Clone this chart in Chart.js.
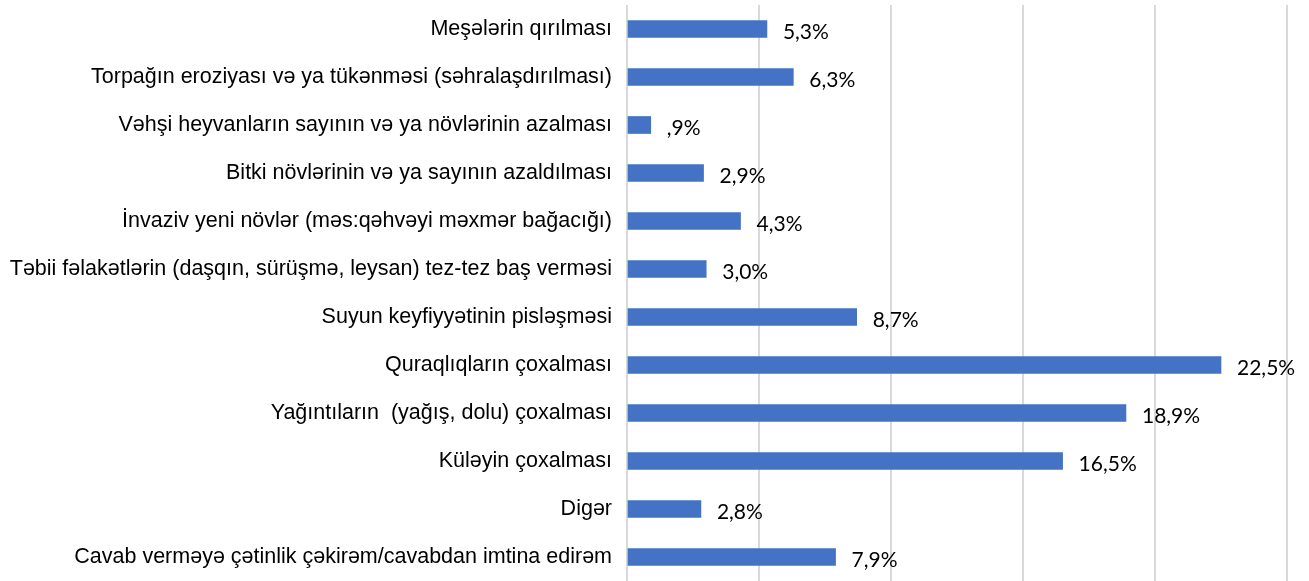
<!DOCTYPE html>
<html>
<head>
<meta charset="utf-8">
<script src="https://cdn.jsdelivr.net/npm/chart.js@4"></script>
<style>
  html, body { margin: 0; padding: 0; background: #fff; }
  #wrap { width: 1309px; height: 581px; }
</style>
</head>
<body>
<div id="wrap"><canvas id="chart"></canvas></div>
<script>
// categories, top to bottom
var categories = [
  "Meşələrin qırılması",
  "Torpağın eroziyası və ya tükənməsi (səhralaşdırılması)",
  "Vəhşi heyvanların sayının və ya növlərinin azalması",
  "Bitki növlərinin və ya sayının azaldılması",
  "İnvaziv yeni növlər (məs:qəhvəyi məxmər bağacığı)",
  "Təbii fəlakətlərin (daşqın, sürüşmə, leysan) tez-tez baş verməsi",
  "Suyun keyfiyyətinin pisləşməsi",
  "Quraqlıqların çoxalması",
  "Yağıntıların  (yağış, dolu) çoxalması",
  "Küləyin çoxalması",
  "Digər",
  "Cavab verməyə çətinlik çəkirəm/cavabdan imtina edirəm"
];
var values = [5.3, 6.3, 0.9, 2.9, 4.3, 3.0, 8.7, 22.5, 18.9, 16.5, 2.8, 7.9];
var valueLabels = ["5,3%", "6,3%", ",9%", "2,9%", "4,3%", "3,0%", "8,7%", "22,5%", "18,9%", "16,5%", "2,8%", "7,9%"];

// draws the value text to the right of each bar
var barValues = {
  id: "barValues",
  afterDatasetsDraw: function(chart) {
    var ctx = chart.ctx;
    var meta = chart.getDatasetMeta(0);
    ctx.save();
    ctx.font = "21px Lato, 'Liberation Sans', sans-serif";
    ctx.fillStyle = "#000";
    ctx.textAlign = "left";
    ctx.textBaseline = "middle";
    meta.data.forEach(function(bar, i) {
      ctx.fillText(valueLabels[i], bar.x + 16, bar.y + 3);
    });
    ctx.restore();
  }
};

new Chart(document.getElementById("chart"), {
  type: "bar",
  data: {
    labels: categories,
    datasets: [{
      data: values,
      backgroundColor: "#4472c4",
      barThickness: 17
    }]
  },
  options: {
    indexAxis: "y",
    responsive: true,
    maintainAspectRatio: false,
    animation: false,
    layout: { padding: { top: 5, right: 22, bottom: 0, left: 0 } },
    plugins: {
      legend: { display: false },
      tooltip: { enabled: false }
    },
    scales: {
      x: {
        min: 0,
        max: 25,
        ticks: { display: false, stepSize: 5 },
        grid: { color: "#d9d9d9", lineWidth: 2, drawTicks: false },
        border: { display: false },
        afterFit: function(scale) { scale.height = 0; }
      },
      y: {
        afterFit: function(scale) {
          scale.width = 627;
          scale.paddingTop = 0;
          scale.paddingBottom = 0;
        },
        ticks: {
          color: "#000",
          padding: 7,
          font: { family: "'Liberation Sans', Arial, sans-serif", size: 21.5 }
        },
        grid: { display: false },
        border: { display: false }
      }
    }
  },
  plugins: [barValues]
});
</script>
</body>
</html>
